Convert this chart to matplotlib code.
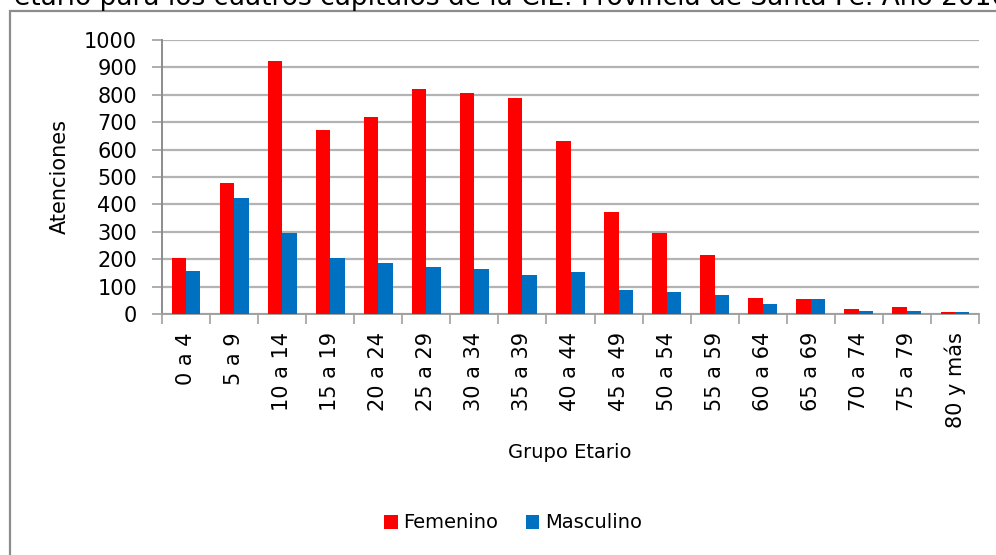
import numpy as np
import matplotlib
matplotlib.use('Agg')
import matplotlib.pyplot as plt
from matplotlib.patches import Rectangle

# datos
grupos = ['0 a 4', '5 a 9', '10 a 14', '15 a 19', '20 a 24', '25 a 29', '30 a 34',
          '35 a 39', '40 a 44', '45 a 49', '50 a 54', '55 a 59', '60 a 64',
          '65 a 69', '70 a 74', '75 a 79', '80 y más']
femenino = [203, 477, 924, 671, 718, 821, 806, 788, 631, 373, 294, 215, 60, 55, 18, 26, 8]
masculino = [157, 425, 294, 203, 185, 170, 163, 142, 154, 88, 81, 68, 35, 55, 11, 11, 8]

rojo = '#FF0000'
azul = '#0070C0'
gris = '#B3B3B3'

fig = plt.figure(figsize=(9.96, 5.55), dpi=100)
ax = fig.add_axes([162 / 996, 1 - 314 / 555, 817 / 996, 274 / 555])

x = np.arange(len(grupos))
w = 0.3
ax.bar(x - w / 2, femenino, w, color=rojo, label='Femenino', zorder=3)
ax.bar(x + w / 2, masculino, w, color=azul, label='Masculino', zorder=3)

ax.set_xlim(-0.5, len(grupos) - 0.5)
ax.set_ylim(0, 1000)
ax.set_yticks(range(0, 1001, 100))
ax.yaxis.grid(True, color=gris, linewidth=1.6, zorder=0)
ax.set_axisbelow(True)

# ticks en los limites de cada grupo, etiquetas en el centro
ax.set_xticks(np.arange(len(grupos) + 1) - 0.5)
ax.set_xticklabels([])
ax.set_xticks(x, minor=True)
ax.set_xticklabels(grupos, minor=True, rotation=90, fontsize=15, va='top')
ax.tick_params(axis='x', which='major', length=7, width=1.2, color='#A0A0A0')
ax.tick_params(axis='x', which='minor', length=0, pad=13)
ax.tick_params(axis='y', length=7, width=1.2, color='#A0A0A0', labelsize=15, pad=11)

for s in ['top', 'right']:
    ax.spines[s].set_visible(False)
ax.spines['left'].set_color('#8C8C8C')
ax.spines['left'].set_linewidth(1.4)
ax.spines['bottom'].set_color('#A0A0A0')
ax.spines['bottom'].set_linewidth(1.4)

ax.set_ylabel('Atenciones', fontsize=15, labelpad=10)
fig.text(570 / 996, 1 - 452 / 555, 'Grupo Etario', fontsize=14, ha='center', va='center')

fig.legend(loc='center', bbox_to_anchor=(513 / 996, 1 - 523 / 555), ncol=2, frameon=False,
           fontsize=14, handlelength=0.7, handleheight=0.7, handletextpad=0.3,
           columnspacing=1.4)

# marco exterior y titulo cortado (como en la imagen original)
fig.patches.append(Rectangle((10 / 996, -0.1), 1.2, 1.1 - 11 / 555, transform=fig.transFigure,
                             fill=False, edgecolor='#8C8C8C', linewidth=1.6))
fig.text(14 / 996, 1 - 5 / 555,
         'etario para los cuatros capítulos de la CIE. Provincia de Santa Fe. Año 2010',
         fontsize=19, ha='left', va='baseline')

fig.savefig('out.png', dpi=100)
